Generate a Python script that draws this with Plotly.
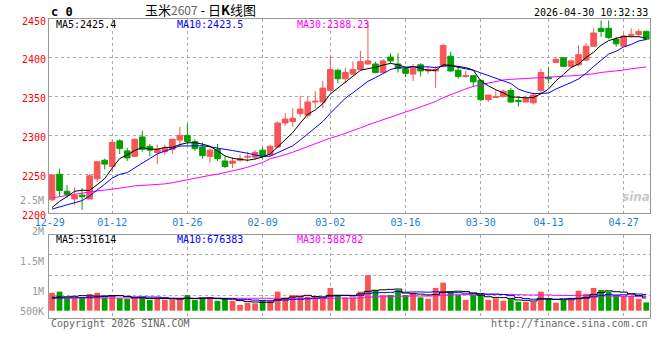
import plotly.graph_objects as go

dates = [
    "2025-12-29", "2025-12-30", "2025-12-31",
    "2026-01-05", "2026-01-06", "2026-01-07", "2026-01-08", "2026-01-09",
    "2026-01-12", "2026-01-13", "2026-01-14", "2026-01-15", "2026-01-16",
    "2026-01-19", "2026-01-20", "2026-01-21", "2026-01-22", "2026-01-23",
    "2026-01-26", "2026-01-27", "2026-01-28", "2026-01-29", "2026-01-30",
    "2026-02-02", "2026-02-03", "2026-02-04", "2026-02-05", "2026-02-06",
    "2026-02-09", "2026-02-10", "2026-02-11", "2026-02-12", "2026-02-13",
    "2026-02-24", "2026-02-25", "2026-02-26", "2026-02-27",
    "2026-03-02", "2026-03-03", "2026-03-04", "2026-03-05", "2026-03-06",
    "2026-03-09", "2026-03-10", "2026-03-11", "2026-03-12", "2026-03-13",
    "2026-03-16", "2026-03-17", "2026-03-18", "2026-03-19", "2026-03-20",
    "2026-03-23", "2026-03-24", "2026-03-25", "2026-03-26", "2026-03-27",
    "2026-03-30", "2026-03-31", "2026-04-01", "2026-04-02", "2026-04-03",
    "2026-04-07", "2026-04-08", "2026-04-09", "2026-04-10",
    "2026-04-13", "2026-04-14", "2026-04-15", "2026-04-16", "2026-04-17",
    "2026-04-20", "2026-04-21", "2026-04-22", "2026-04-23", "2026-04-24",
    "2026-04-27", "2026-04-28", "2026-04-29", "2026-04-30",
]

opens = [2217, 2250, 2228, 2218, 2223, 2218, 2244, 2268, 2260, 2293,
         2280, 2273, 2298, 2286, 2278, 2279, 2282, 2294, 2300, 2292,
         2285, 2273, 2282, 2267, 2264, 2268, 2272, 2272, 2281, 2275,
         2285, 2316, 2318, 2328, 2326, 2343, 2343, 2358, 2384, 2373,
         2379, 2385, 2392, 2392, 2381, 2401, 2392, 2386, 2379, 2391,
         2383, 2383, 2389, 2402, 2384, 2376, 2377, 2371, 2346, 2349,
         2350, 2358, 2345, 2343, 2342, 2358, 2375, 2394, 2400, 2389,
         2391, 2397, 2415, 2438, 2438, 2424, 2415, 2429, 2430, 2434]
highs = [2250, 2257, 2236, 2233, 2232, 2250, 2267, 2270, 2294, 2295,
         2284, 2296, 2306, 2289, 2288, 2288, 2296, 2311, 2315, 2295,
         2291, 2283, 2289, 2273, 2272, 2275, 2279, 2281, 2285, 2288,
         2318, 2329, 2335, 2351, 2350, 2357, 2370, 2402, 2386, 2387,
         2395, 2409, 2446, 2395, 2398, 2406, 2406, 2389, 2392, 2393,
         2389, 2389, 2418, 2408, 2388, 2383, 2378, 2372, 2352, 2358,
         2359, 2361, 2350, 2351, 2355, 2386, 2388, 2401, 2401, 2398,
         2416, 2419, 2438, 2448, 2448, 2427, 2431, 2438, 2437, 2435]
lows = [2215, 2221, 2220, 2210, 2204, 2218, 2240, 2256, 2253, 2276,
        2267, 2272, 2279, 2273, 2263, 2275, 2276, 2285, 2288, 2280,
        2270, 2265, 2267, 2258, 2258, 2266, 2266, 2268, 2270, 2274,
        2284, 2312, 2311, 2324, 2323, 2335, 2335, 2357, 2367, 2368,
        2378, 2384, 2391, 2380, 2380, 2393, 2381, 2375, 2370, 2376,
        2379, 2361, 2388, 2382, 2373, 2374, 2362, 2344, 2343, 2349,
        2349, 2342, 2337, 2343, 2340, 2355, 2367, 2393, 2388, 2389,
        2389, 2396, 2414, 2427, 2424, 2414, 2414, 2426, 2427, 2423]
closes = [2249, 2229, 2224, 2223, 2221, 2248, 2266, 2263, 2291, 2283,
          2271, 2295, 2282, 2281, 2282, 2283, 2295, 2300, 2292, 2283,
          2274, 2281, 2270, 2260, 2267, 2270, 2273, 2278, 2273, 2286,
          2316, 2321, 2322, 2334, 2343, 2344, 2361, 2385, 2373, 2381,
          2385, 2395, 2396, 2381, 2396, 2396, 2386, 2380, 2386, 2383,
          2385, 2385, 2416, 2383, 2376, 2377, 2369, 2346, 2352, 2350,
          2357, 2343, 2344, 2348, 2352, 2381, 2373, 2398, 2389, 2396,
          2404, 2415, 2432, 2434, 2426, 2418, 2428, 2430, 2434, 2424]

ma5 = [2207, 2215, 2221, 2228, 2229.3, 2229.1, 2236.5, 2244.2, 2257.8, 2270.2,
       2274.8, 2280.6, 2284.4, 2282.4, 2282.2, 2284.6, 2284.6, 2288.2, 2290.4, 2290.6,
       2288.8, 2286.0, 2280.0, 2273.6, 2270.4, 2269.6, 2268.0, 2269.6, 2272.2, 2276.0,
       2285.2, 2294.8, 2303.6, 2315.8, 2327.2, 2332.8, 2340.8, 2353.4, 2361.2, 2368.8,
       2377.0, 2383.8, 2386.0, 2387.6, 2390.6, 2392.8, 2391.0, 2387.8, 2388.8, 2386.2,
       2384.0, 2383.8, 2391.0, 2390.4, 2389.0, 2387.4, 2384.2, 2370.2, 2364.0, 2358.8,
       2354.8, 2349.6, 2349.2, 2348.4, 2348.8, 2353.6, 2359.6, 2370.4, 2378.6, 2387.4,
       2392.0, 2400.4, 2407.2, 2416.2, 2422.2, 2425.0, 2427.6, 2427.2, 2427.2, 2425.4]
ma10 = [2205, 2208, 2211, 2214, 2216, 2222, 2229, 2237, 2245, 2249.8,
        2252.0, 2258.6, 2264.3, 2270.1, 2276.2, 2279.7, 2282.6, 2286.3, 2286.4, 2286.4,
        2286.7, 2285.3, 2284.1, 2282.0, 2280.5, 2279.2, 2277.0, 2274.8, 2272.9, 2273.2,
        2277.4, 2281.4, 2286.6, 2294.0, 2301.6, 2309.0, 2317.8, 2328.5, 2338.5, 2348.0,
        2354.9, 2362.3, 2369.7, 2374.4, 2379.7, 2384.9, 2387.4, 2386.9, 2388.2, 2388.4,
        2388.4, 2387.4, 2389.4, 2389.6, 2387.6, 2385.7, 2384.0, 2380.6, 2377.2, 2373.9,
        2371.1, 2366.9, 2359.7, 2356.2, 2353.8, 2354.2, 2354.6, 2359.8, 2363.5, 2368.1,
        2372.8, 2380.0, 2388.8, 2397.4, 2404.8, 2408.5, 2414.0, 2417.2, 2421.7, 2423.5]
ma30 = [2219.5, 2221, 2223, 2224.5, 2226, 2227.5, 2228.5, 2229.5, 2230.5, 2232,
        2233.5, 2235, 2235.5, 2236, 2237, 2237.5, 2239, 2241, 2243, 2244.5,
        2246.5, 2248.5, 2250, 2252, 2254, 2256.5, 2259, 2262, 2265, 2269.8,
        2272.0, 2275.1, 2278.3, 2282.0, 2286.1, 2289.3, 2292.5, 2296.5, 2299.3, 2302.5,
        2306.3, 2309.7, 2313.5, 2316.8, 2320.6, 2324.4, 2327.4, 2330.1, 2333.2, 2336.5,
        2340.2, 2343.7, 2348.6, 2352.7, 2356.3, 2359.9, 2363.1, 2365.3, 2368.0, 2370.1,
        2371.5, 2372.2, 2372.9, 2373.4, 2373.7, 2374.9, 2375.3, 2375.8, 2376.3, 2376.8,
        2377.4, 2378.1, 2379.3, 2381.1, 2382.1, 2382.8, 2384.2, 2385.9, 2387.5, 2388.23]

# volume in thousands
volumes = [747, 795, 517, 517, 556, 699, 747, 556, 613, 517,
           489, 517, 556, 450, 546, 450, 450, 517, 651, 450,
           556, 517, 412, 517, 412, 240, 335, 307, 450, 402,
           795, 556, 651, 613, 584, 556, 489, 948, 642, 556,
           556, 795, 1485, 862, 651, 651, 862, 651, 728, 556,
           498, 948, 1169, 795, 651, 450, 651, 699, 450, 517,
           412, 489, 374, 374, 374, 795, 517, 335, 450, 450,
           833, 699, 948, 862, 795, 651, 613, 613, 489, 345]
vol_ma5 = [560, 570, 580, 600, 627, 617, 607, 615, 634, 627,
           584, 538, 538, 506, 512, 504, 490, 483, 523, 504,
           525, 538, 517, 490, 483, 420, 383, 362, 349, 347,
           458, 502, 571, 604, 640, 592, 579, 638, 644, 638,
           638, 699, 807, 851, 870, 889, 902, 736, 709, 690,
           659, 676, 780, 793, 812, 803, 743, 650, 581, 554,
           546, 513, 448, 433, 404, 481, 487, 479, 494, 510,
           517, 554, 676, 759, 828, 791, 774, 707, 632, 531.614]
vol_ma10 = [520, 530, 535, 540, 545, 555, 570, 590, 610, 627,
            601, 573, 577, 570, 569, 544, 514, 511, 514, 508,
            514, 514, 500, 507, 493, 472, 461, 440, 420, 415,
            439, 443, 467, 476, 493, 525, 540, 605, 624, 639,
            615, 639, 722, 747, 754, 764, 801, 771, 780, 780,
            774, 789, 758, 751, 751, 731, 710, 715, 687, 683,
            674, 628, 549, 507, 479, 513, 500, 464, 464, 457,
            499, 520, 578, 627, 669, 654, 664, 692, 696, 676.383]
vol_ma30 = [530, 530, 529, 529, 528, 528, 527, 527, 526, 526,
            525, 525, 524, 524, 523, 523, 522, 522, 521, 521,
            520, 520, 519, 519, 518, 518, 517, 517, 516, 516,
            518, 510, 514, 518, 519, 514, 505, 518, 519, 520,
            523, 532, 563, 577, 580, 587, 601, 605, 608, 611,
            609, 624, 649, 658, 666, 673, 684, 690, 690, 692,
            680, 676, 668, 660, 652, 656, 655, 640, 635, 632,
            640, 635, 620, 615, 612, 608, 600, 597, 592, 588.782]

date_labels = ["12-29", "01-12", "01-26", "02-09", "03-02", "03-16", "03-30", "04-13", "04-27"]
price_ticks = [2200, 2250, 2300, 2350, 2400, 2450]
vol_axis_labels = ["2.5M", "2M", "1.5M", "1M", "500K"]

n = len(dates)
for arr in (opens, highs, lows, closes, ma5, ma10, ma30, volumes, vol_ma5, vol_ma10, vol_ma30):
    assert len(arr) == n, len(arr)

RED = "#f65656"
GREEN = "#00a000"
GRID = "#aaaaaa"
BORDER = "#999999"
BLUE_TXT = "#1a7fcf"
MONO = "DejaVu Sans Mono"

idx = list(range(n))
label_idx = [i for i, d in enumerate(dates) if d[5:] in date_labels]
grid_idx = label_idx[1:]
label_pos = [label_idx[0] - 0.3] + label_idx[1:]

fig = go.Figure()
fig.add_trace(go.Candlestick(
    x=idx, open=opens, high=highs, low=lows, close=closes,
    increasing=dict(line=dict(color=RED, width=1), fillcolor=RED),
    decreasing=dict(line=dict(color=GREEN, width=1), fillcolor=GREEN),
    whiskerwidth=0, xaxis="x", yaxis="y", hoverinfo="skip", showlegend=False))
for vals, col in ((ma30, "#ff00ff"), (ma10, "#0000ff"), (ma5, "#000000")):
    fig.add_trace(go.Scatter(x=idx, y=vals, mode="lines", line=dict(color=col, width=1),
                             xaxis="x", yaxis="y", hoverinfo="skip", showlegend=False))

bar_colors = [RED if c >= o else GREEN for o, c in zip(opens, closes)]
fig.add_trace(go.Bar(x=idx, y=[v * 1000 for v in volumes], marker=dict(color=bar_colors, line=dict(width=0)),
                     width=0.76, xaxis="x2", yaxis="y2", hoverinfo="skip", showlegend=False))
for vals, col in ((vol_ma30, "#ff00ff"), (vol_ma10, "#0000ff"), (vol_ma5, "#000000")):
    fig.add_trace(go.Scatter(x=idx, y=[v * 1000 for v in vals], mode="lines",
                             line=dict(color=col, width=1, shape="hvh"),
                             xaxis="x2", yaxis="y2", hoverinfo="skip", showlegend=False))

L, R, T, B = 49, 10, 19, 42
W, H = 660, 360
PW, PH = W - L - R, H - T - B
main_bottom = (318 - 213) / PH
vol_top = (318 - 235) / PH


def px(x):
    return (x - L) / PW


def py(y):
    return (H - B - y) / PH


xr = [-0.4, n - 0.5]
minor_grid = dict(tickmode="array", tickvals=grid_idx, showgrid=True, gridcolor=GRID,
                  griddash="dot", gridwidth=1, ticks="")

fig.update_layout(
    width=W, height=H, margin=dict(l=L, r=R, t=T, b=B),
    paper_bgcolor="white", plot_bgcolor="white",
    boxgap=0.25, boxgroupgap=0, bargap=0.2,
    xaxis=dict(domain=[0, 1], anchor="y", range=xr, tickmode="array",
               tickvals=label_pos, ticktext=date_labels, showgrid=False,
               minor=minor_grid, showline=True, linecolor=BORDER, linewidth=1, mirror=True,
               ticks="", zeroline=False, rangeslider=dict(visible=False),
               tickfont=dict(family=MONO, size=10, color=BLUE_TXT)),
    yaxis=dict(domain=[main_bottom, 1], anchor="x", range=[2200, 2450], tickmode="array",
               tickvals=price_ticks, showgrid=True, gridcolor=GRID, griddash="dot",
               showline=True, linecolor=BORDER, mirror=True, ticks="", zeroline=False,
               ticklabelshift=2,
               tickfont=dict(family=MONO, size=10, color="#ff0000")),
    xaxis2=dict(domain=[0, 1], anchor="y2", range=xr, showticklabels=False,
                tickmode="array", tickvals=label_idx, showgrid=False, minor=minor_grid,
                showline=True, linecolor=BORDER, mirror=True, ticks="", zeroline=False),
    yaxis2=dict(domain=[0, vol_top], anchor="x2", range=[-304000, 3154000],
                tickmode="array", tickvals=[654000, 1487500, 2321000], showticklabels=False,
                showgrid=True, gridcolor=GRID, griddash="dot", showline=True,
                linecolor=BORDER, mirror=True, ticks="", zeroline=False),
)

ann = []


def text(x, y, s, color="#000000", size=10, xanchor="left", family=MONO):
    ann.append(dict(x=px(x), y=py(y), xref="paper", yref="paper", text=s, showarrow=False,
                    xanchor=xanchor, yanchor="middle", font=dict(family=family, size=size, color=color)))


text(49, 12, "<b>c 0</b>", size=12)
text(200, 9.5, "玉米<span style='color:#666666;font-size:12px'>2607</span> - 日<b>K</b>线图",
     size=13, xanchor="center", family="Noto Sans CJK SC")
text(650, 12, "2026-04-30 10:32:33", xanchor="right")
text(54, 24.5, f"MA5:{ma5[-1]}")
text(175, 24.5, f"MA10:{ma10[-1]}", color="#0000ff")
text(295, 24.5, f"MA30:{ma30[-1]}", color="#ff00ff")
text(54, 239, f"MA5:{round(vol_ma5[-1] * 1000)}")
text(175, 239, f"MA10:{round(vol_ma10[-1] * 1000)}", color="#0000ff")
text(295, 239, f"MA30:{round(vol_ma30[-1] * 1000)}", color="#ff00ff")
for lab, yy in zip(vol_axis_labels, [200, 231, 261, 291, 311]):
    text(46, yy, lab, color="#999999", xanchor="right")
text(49, 323, "Copyright 2026 SINA.COM", color="#666666")
text(650, 323, "http://finance.sina.com.cn", color="#666666", xanchor="right")
text(636, 197, "<b><i>sina</i></b>", color="#c8c8c8", size=12, xanchor="center", family="DejaVu Sans")
fig.update_layout(annotations=ann)

fig.write_html("out.html", config={"displayModeBar": False},
               post_script="document.body.style.margin='0px';")
